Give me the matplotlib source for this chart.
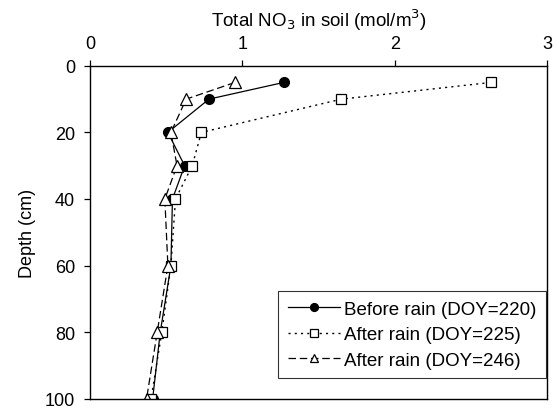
import matplotlib
matplotlib.use("Agg")
import matplotlib.pyplot as plt

plt.rcParams['font.family'] = ['Liberation Sans', 'DejaVu Sans']

# depth (cm) and total NO3 (mol/m3) for each sampling date
depth_220 = [5, 10, 20, 30, 40, 60, 80, 100]
no3_220 = [1.27, 0.78, 0.51, 0.62, 0.54, 0.53, 0.46, 0.41]

depth_225 = [5, 10, 20, 30, 40, 60, 80, 100]
no3_225 = [2.63, 1.65, 0.73, 0.67, 0.56, 0.53, 0.47, 0.40]

depth_246 = [5, 10, 20, 30, 40, 60, 80, 100]
no3_246 = [0.95, 0.63, 0.53, 0.57, 0.49, 0.51, 0.44, 0.37]

labels = ['Before rain (DOY=220)', 'After rain (DOY=225)', 'After rain (DOY=246)']

fig = plt.figure(figsize=(5.57, 4.10), dpi=100)
ax = fig.add_axes([0.162, 0.025, 0.82, 0.812])

ax.plot(no3_220, depth_220, color='black', linestyle='-', linewidth=0.9,
        marker='o', markersize=7, markerfacecolor='black', markeredgecolor='black',
        label=labels[0])
ax.plot(no3_225, depth_225, color='black', linestyle=(0, (1.5, 3)), linewidth=1.0,
        marker='s', markersize=7, markerfacecolor='white', markeredgecolor='black',
        markeredgewidth=0.9, label=labels[1])
ax.plot(no3_246, depth_246, color='black', linestyle=(0, (6, 3)), linewidth=0.9,
        marker='^', markersize=8, markerfacecolor='white', markeredgecolor='black',
        markeredgewidth=0.9, label=labels[2])

ax.set_xlim(0, 3)
ax.set_ylim(100, 0)
ax.set_xticks([0, 1, 2, 3])
ax.set_yticks([0, 20, 40, 60, 80, 100])

ax.xaxis.tick_top()
ax.xaxis.set_label_position('top')
ax.tick_params(axis='both', direction='out', length=4, width=0.9,
               labelsize=13, pad=7)
ax.tick_params(axis='x', bottom=False, top=True, pad=6)

ax.set_xlabel('Total NO$_3$ in soil (mol/m$^3$)', fontsize=13.5)
ax.xaxis.set_label_coords(0.5, 1.12)
ax.set_ylabel('Depth (cm)', fontsize=13, labelpad=6)

for s in ax.spines.values():
    s.set_linewidth(1.0)

leg = ax.legend(loc='lower right', bbox_to_anchor=(0.997, 0.062),
                fontsize=13.5, frameon=True, fancybox=False, edgecolor='black',
                numpoints=1, handlelength=2.8, handletextpad=0.2,
                borderpad=0.5, labelspacing=0.45, borderaxespad=0,
                markerscale=0.8)
leg.get_frame().set_linewidth(0.8)

fig.savefig('out.png', dpi=100)
